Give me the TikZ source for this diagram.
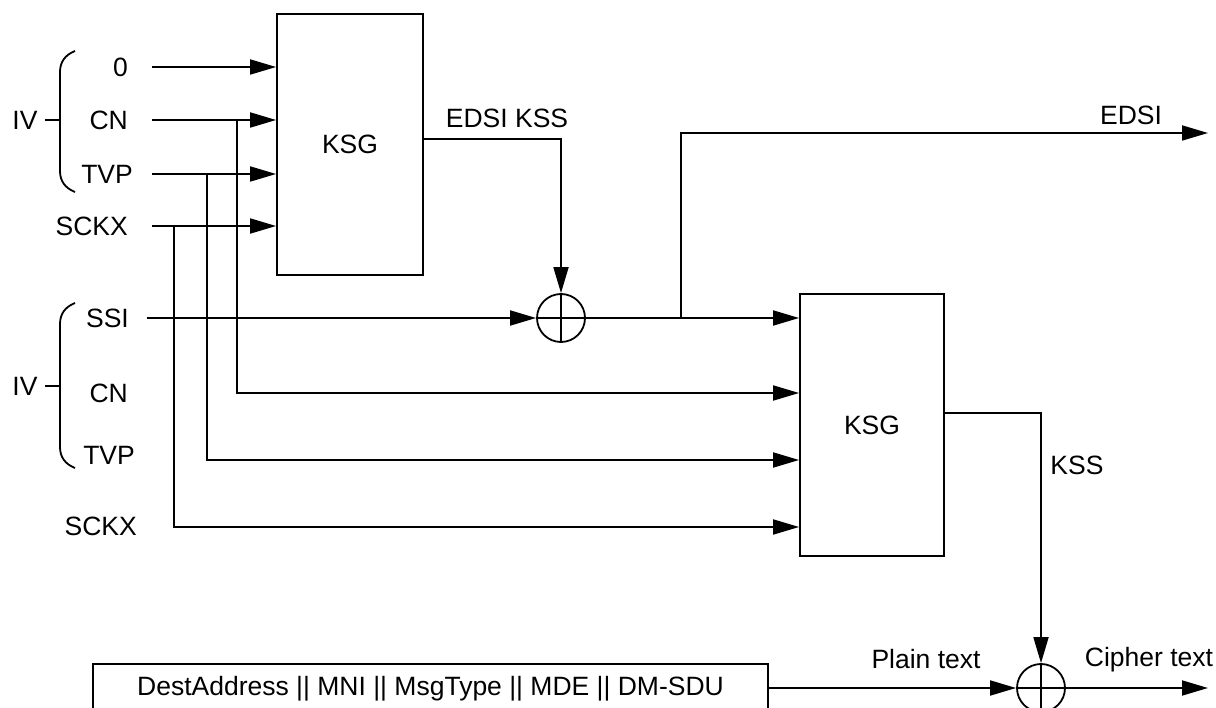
\documentclass[tikz,border=0pt]{standalone}
\usepackage{fontspec}
\setmainfont{Liberation Sans}
\usetikzlibrary{arrows.meta}
\begin{document}
\begin{tikzpicture}[x=1pt,y=-1pt,
  font=\fontsize{26.5}{31}\selectfont,
  wire/.style={line width=1.8pt},
  arr/.style={wire,-{Triangle[length=26pt,width=15pt]}},
  blk/.style={draw,line width=1.8pt,inner sep=0pt},
  xor/.style={draw,circle,line width=1.8pt,minimum size=48pt,inner sep=0pt},
  lbl/.style={inner sep=0pt}]
\useasboundingbox (0,0) rectangle (1216,708);

% blocks
\node[blk,minimum width=146pt,minimum height=261pt] (k1) at (350,144.5) {KSG};
\node[blk,minimum width=144pt,minimum height=262pt] (k2) at (872,425) {KSG};
\node[blk,minimum width=675pt,minimum height=50pt] (msg) at (430.5,689) {DestAddress || MNI || MsgType || MDE || DM-SDU};
\node[xor] (x1) at (561,318) {};
\node[xor] (x2) at (1041,688) {};
\draw[wire] (x1.north) -- (x1.south) (x1.west) -- (x1.east);
\draw[wire] (x2.north) -- (x2.south) (x2.west) -- (x2.east);

% input labels (upper)
\node[lbl,anchor=east] (l0) at (128,67) {0};
\node[lbl,anchor=east] (lcn) at (128,120) {CN};
\node[lbl,anchor=east] (ltvp) at (133,174) {TVP};
\node[lbl,anchor=east] (lsckx) at (128,226) {SCKX};
\node[lbl] (iv1) at (25,120) {IV};
% input labels (lower)
\node[lbl,anchor=east] (lssi) at (129,318) {SSI};
\node[lbl,anchor=east] (lcn2) at (128,393) {CN};
\node[lbl,anchor=east] (ltvp2) at (135,455) {TVP};
\node[lbl,anchor=east] (lsckx2) at (137,526) {SCKX};
\node[lbl] (iv2) at (25,386) {IV};

% braces
\draw[wire] (75,51) .. controls (65,55) and (60,62) .. (60,72) -- (60,171) .. controls (60,181) and (65,188) .. (75,192);
\coordinate (t1) at (45,120);
\draw[wire] (t1) -- (60,120);
\draw[wire] (75,303) .. controls (65,307) and (60,314) .. (60,324) -- (60,447) .. controls (60,457) and (65,464) .. (75,468);
\coordinate (t2) at (45,386);
\draw[wire] (t2) -- (60,386);

% start coordinates
\coordinate (s0) at (152,67);
\coordinate (scn) at (152,120);
\coordinate (stvp) at (152,174);
\coordinate (ssckx) at (152,226);
\coordinate (sssi) at (147,318);
\coordinate (bcn) at (237,120);
\coordinate (btvp) at (207,174);
\coordinate (bsckx) at (174,226);
\coordinate (ycn) at (0,393);
\coordinate (ytvp) at (0,460);
\coordinate (ysckx) at (0,527);
\coordinate (yek) at (0,139);
\coordinate (ykss) at (0,413);
\coordinate (bedsi) at (681,318);
\coordinate (edsi) at (1208,133);
\coordinate (cout) at (1208,688);

% inputs to KSG 1
\draw[arr] (s0) -- (s0 -| k1.west);
\draw[arr] (scn) -- (scn -| k1.west);
\draw[arr] (stvp) -- (stvp -| k1.west);
\draw[arr] (ssckx) -- (ssckx -| k1.west);

% branches to KSG 2
\draw[arr] (bcn) |- (k2.west |- ycn);
\draw[arr] (btvp) |- (k2.west |- ytvp);
\draw[arr] (bsckx) |- (k2.west |- ysckx);

% SSI to xor
\draw[arr] (sssi) -- (x1.west);
\draw[arr] (k1.east |- yek) -| (x1.north);
\draw[arr] (x1.east) -- (k2.west |- x1.east);
\draw[arr] (bedsi) |- (edsi);

% KSS
\draw[arr] (k2.east |- ykss) -| (x2.north);
\draw[arr] (msg.east |- x2.west) -- (x2.west);
\draw[arr] (x2.east) -- (cout);

% connector labels
\node[lbl] (lek) at (507,118) {EDSI KSS};
\node[lbl] (ledsi) at (1131,115) {EDSI};
\node[lbl] (lkss) at (1077,465) {KSS};
\node[lbl] (lplain) at (926,659) {Plain text};
\node[lbl] (lcipher) at (1149,660) {Cipher text};
\end{tikzpicture}
\end{document}
